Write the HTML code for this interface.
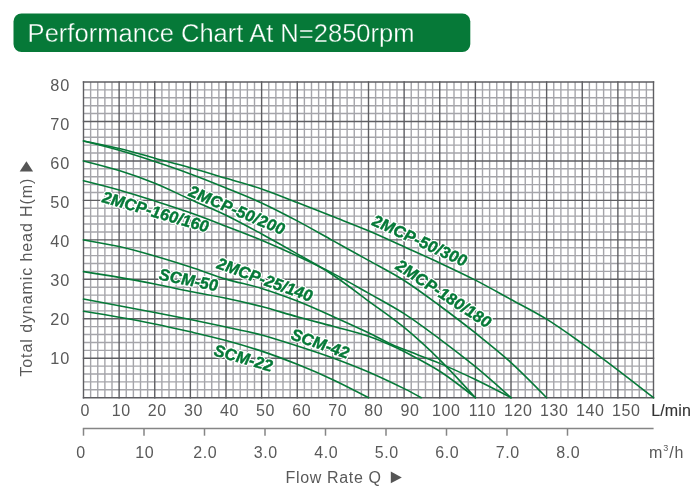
<!DOCTYPE html>
<html><head><meta charset="utf-8"><title>Performance Chart</title>
<style>html,body{margin:0;padding:0;background:#fff;}body{width:700px;height:499px;overflow:hidden;font-family:"Liberation Sans",sans-serif;}svg{display:block;will-change:transform;}text{font-family:"Liberation Sans",sans-serif;}</style>
</head><body>
<svg width="700" height="499" viewBox="0 0 700 499">
<rect x="0" y="0" width="700" height="499" fill="#ffffff"/>
<rect x="13.5" y="13.4" width="456.8" height="38.6" rx="8" ry="8" fill="#067938"/>
<text x="27.6" y="42" font-size="26.7" fill="#ffffff" stroke="#067938" stroke-width="0.35" textLength="387" lengthAdjust="spacingAndGlyphs">Performance Chart At N=2850rpm</text>
<g stroke="#a5a5aa" stroke-width="1.4" fill="none">
<line x1="90.62" y1="82.00" x2="90.62" y2="397.70"/>
<line x1="97.75" y1="82.00" x2="97.75" y2="397.70"/>
<line x1="104.88" y1="82.00" x2="104.88" y2="397.70"/>
<line x1="112.00" y1="82.00" x2="112.00" y2="397.70"/>
<line x1="126.25" y1="82.00" x2="126.25" y2="397.70"/>
<line x1="133.38" y1="82.00" x2="133.38" y2="397.70"/>
<line x1="140.50" y1="82.00" x2="140.50" y2="397.70"/>
<line x1="147.62" y1="82.00" x2="147.62" y2="397.70"/>
<line x1="161.88" y1="82.00" x2="161.88" y2="397.70"/>
<line x1="169.00" y1="82.00" x2="169.00" y2="397.70"/>
<line x1="176.12" y1="82.00" x2="176.12" y2="397.70"/>
<line x1="183.25" y1="82.00" x2="183.25" y2="397.70"/>
<line x1="197.50" y1="82.00" x2="197.50" y2="397.70"/>
<line x1="204.62" y1="82.00" x2="204.62" y2="397.70"/>
<line x1="211.75" y1="82.00" x2="211.75" y2="397.70"/>
<line x1="218.88" y1="82.00" x2="218.88" y2="397.70"/>
<line x1="233.12" y1="82.00" x2="233.12" y2="397.70"/>
<line x1="240.25" y1="82.00" x2="240.25" y2="397.70"/>
<line x1="247.38" y1="82.00" x2="247.38" y2="397.70"/>
<line x1="254.50" y1="82.00" x2="254.50" y2="397.70"/>
<line x1="268.75" y1="82.00" x2="268.75" y2="397.70"/>
<line x1="275.88" y1="82.00" x2="275.88" y2="397.70"/>
<line x1="283.00" y1="82.00" x2="283.00" y2="397.70"/>
<line x1="290.12" y1="82.00" x2="290.12" y2="397.70"/>
<line x1="304.38" y1="82.00" x2="304.38" y2="397.70"/>
<line x1="311.50" y1="82.00" x2="311.50" y2="397.70"/>
<line x1="318.62" y1="82.00" x2="318.62" y2="397.70"/>
<line x1="325.75" y1="82.00" x2="325.75" y2="397.70"/>
<line x1="340.00" y1="82.00" x2="340.00" y2="397.70"/>
<line x1="347.12" y1="82.00" x2="347.12" y2="397.70"/>
<line x1="354.25" y1="82.00" x2="354.25" y2="397.70"/>
<line x1="361.38" y1="82.00" x2="361.38" y2="397.70"/>
<line x1="375.62" y1="82.00" x2="375.62" y2="397.70"/>
<line x1="382.75" y1="82.00" x2="382.75" y2="397.70"/>
<line x1="389.88" y1="82.00" x2="389.88" y2="397.70"/>
<line x1="397.00" y1="82.00" x2="397.00" y2="397.70"/>
<line x1="411.25" y1="82.00" x2="411.25" y2="397.70"/>
<line x1="418.38" y1="82.00" x2="418.38" y2="397.70"/>
<line x1="425.50" y1="82.00" x2="425.50" y2="397.70"/>
<line x1="432.62" y1="82.00" x2="432.62" y2="397.70"/>
<line x1="446.88" y1="82.00" x2="446.88" y2="397.70"/>
<line x1="454.00" y1="82.00" x2="454.00" y2="397.70"/>
<line x1="461.12" y1="82.00" x2="461.12" y2="397.70"/>
<line x1="468.25" y1="82.00" x2="468.25" y2="397.70"/>
<line x1="482.50" y1="82.00" x2="482.50" y2="397.70"/>
<line x1="489.62" y1="82.00" x2="489.62" y2="397.70"/>
<line x1="496.75" y1="82.00" x2="496.75" y2="397.70"/>
<line x1="503.88" y1="82.00" x2="503.88" y2="397.70"/>
<line x1="518.12" y1="82.00" x2="518.12" y2="397.70"/>
<line x1="525.25" y1="82.00" x2="525.25" y2="397.70"/>
<line x1="532.38" y1="82.00" x2="532.38" y2="397.70"/>
<line x1="539.50" y1="82.00" x2="539.50" y2="397.70"/>
<line x1="553.75" y1="82.00" x2="553.75" y2="397.70"/>
<line x1="560.88" y1="82.00" x2="560.88" y2="397.70"/>
<line x1="568.00" y1="82.00" x2="568.00" y2="397.70"/>
<line x1="575.12" y1="82.00" x2="575.12" y2="397.70"/>
<line x1="589.38" y1="82.00" x2="589.38" y2="397.70"/>
<line x1="596.50" y1="82.00" x2="596.50" y2="397.70"/>
<line x1="603.62" y1="82.00" x2="603.62" y2="397.70"/>
<line x1="610.75" y1="82.00" x2="610.75" y2="397.70"/>
<line x1="625.00" y1="82.00" x2="625.00" y2="397.70"/>
<line x1="632.12" y1="82.00" x2="632.12" y2="397.70"/>
<line x1="639.25" y1="82.00" x2="639.25" y2="397.70"/>
<line x1="646.38" y1="82.00" x2="646.38" y2="397.70"/>
<line x1="83.50" y1="89.89" x2="653.50" y2="89.89"/>
<line x1="83.50" y1="97.78" x2="653.50" y2="97.78"/>
<line x1="83.50" y1="105.68" x2="653.50" y2="105.68"/>
<line x1="83.50" y1="113.57" x2="653.50" y2="113.57"/>
<line x1="83.50" y1="129.35" x2="653.50" y2="129.35"/>
<line x1="83.50" y1="137.25" x2="653.50" y2="137.25"/>
<line x1="83.50" y1="145.14" x2="653.50" y2="145.14"/>
<line x1="83.50" y1="153.03" x2="653.50" y2="153.03"/>
<line x1="83.50" y1="168.82" x2="653.50" y2="168.82"/>
<line x1="83.50" y1="176.71" x2="653.50" y2="176.71"/>
<line x1="83.50" y1="184.60" x2="653.50" y2="184.60"/>
<line x1="83.50" y1="192.50" x2="653.50" y2="192.50"/>
<line x1="83.50" y1="208.28" x2="653.50" y2="208.28"/>
<line x1="83.50" y1="216.17" x2="653.50" y2="216.17"/>
<line x1="83.50" y1="224.06" x2="653.50" y2="224.06"/>
<line x1="83.50" y1="231.96" x2="653.50" y2="231.96"/>
<line x1="83.50" y1="247.74" x2="653.50" y2="247.74"/>
<line x1="83.50" y1="255.63" x2="653.50" y2="255.63"/>
<line x1="83.50" y1="263.53" x2="653.50" y2="263.53"/>
<line x1="83.50" y1="271.42" x2="653.50" y2="271.42"/>
<line x1="83.50" y1="287.20" x2="653.50" y2="287.20"/>
<line x1="83.50" y1="295.10" x2="653.50" y2="295.10"/>
<line x1="83.50" y1="302.99" x2="653.50" y2="302.99"/>
<line x1="83.50" y1="310.88" x2="653.50" y2="310.88"/>
<line x1="83.50" y1="326.67" x2="653.50" y2="326.67"/>
<line x1="83.50" y1="334.56" x2="653.50" y2="334.56"/>
<line x1="83.50" y1="342.45" x2="653.50" y2="342.45"/>
<line x1="83.50" y1="350.34" x2="653.50" y2="350.34"/>
<line x1="83.50" y1="366.13" x2="653.50" y2="366.13"/>
<line x1="83.50" y1="374.02" x2="653.50" y2="374.02"/>
<line x1="83.50" y1="381.92" x2="653.50" y2="381.92"/>
<line x1="83.50" y1="389.81" x2="653.50" y2="389.81"/>
</g>
<g stroke="#5e5e62" stroke-width="1.4" fill="none">
<line x1="83.50" y1="81.30" x2="83.50" y2="398.40"/>
<line x1="119.12" y1="81.30" x2="119.12" y2="398.40"/>
<line x1="154.75" y1="81.30" x2="154.75" y2="398.40"/>
<line x1="190.38" y1="81.30" x2="190.38" y2="398.40"/>
<line x1="226.00" y1="81.30" x2="226.00" y2="398.40"/>
<line x1="261.62" y1="81.30" x2="261.62" y2="398.40"/>
<line x1="297.25" y1="81.30" x2="297.25" y2="398.40"/>
<line x1="332.88" y1="81.30" x2="332.88" y2="398.40"/>
<line x1="368.50" y1="81.30" x2="368.50" y2="398.40"/>
<line x1="404.12" y1="81.30" x2="404.12" y2="398.40"/>
<line x1="439.75" y1="81.30" x2="439.75" y2="398.40"/>
<line x1="475.38" y1="81.30" x2="475.38" y2="398.40"/>
<line x1="511.00" y1="81.30" x2="511.00" y2="398.40"/>
<line x1="546.62" y1="81.30" x2="546.62" y2="398.40"/>
<line x1="582.25" y1="81.30" x2="582.25" y2="398.40"/>
<line x1="617.88" y1="81.30" x2="617.88" y2="398.40"/>
<line x1="653.50" y1="81.30" x2="653.50" y2="398.40"/>
<line x1="82.80" y1="82.00" x2="654.20" y2="82.00"/>
<line x1="82.80" y1="121.46" x2="654.20" y2="121.46"/>
<line x1="82.80" y1="160.93" x2="654.20" y2="160.93"/>
<line x1="82.80" y1="200.39" x2="654.20" y2="200.39"/>
<line x1="82.80" y1="239.85" x2="654.20" y2="239.85"/>
<line x1="82.80" y1="279.31" x2="654.20" y2="279.31"/>
<line x1="82.80" y1="318.77" x2="654.20" y2="318.77"/>
<line x1="82.80" y1="358.24" x2="654.20" y2="358.24"/>
<line x1="82.80" y1="397.70" x2="654.20" y2="397.70"/>
</g>
<g font-size="16.3" font-weight="bold" font-style="italic" fill="#ffffff" stroke="#ffffff" stroke-width="2.8" stroke-linejoin="round">
<text x="0" y="0" transform="translate(101.60 202.00) rotate(16.15) skewX(4)" textLength="110.0" lengthAdjust="spacing">2MCP-160/160</text>
<text x="0" y="0" transform="translate(187.80 195.60) rotate(22.82) skewX(4)" textLength="102.6" lengthAdjust="spacing">2MCP-50/200</text>
<text x="0" y="0" transform="translate(216.00 268.00) rotate(19.77) skewX(4)" textLength="100.5" lengthAdjust="spacing">2MCP-25/140</text>
<text x="0" y="0" transform="translate(158.60 279.60) rotate(11.33) skewX(4)" textLength="59.6" lengthAdjust="spacing">SCM-50</text>
<text x="0" y="0" transform="translate(290.20 339.00) rotate(19.27) skewX(4)" textLength="60.6" lengthAdjust="spacing">SCM-42</text>
<text x="0" y="0" transform="translate(213.30 355.20) rotate(16.09) skewX(4)" textLength="60.3" lengthAdjust="spacing">SCM-22</text>
<text x="0" y="0" transform="translate(371.30 224.80) rotate(24.46) skewX(4)" textLength="102.2" lengthAdjust="spacing">2MCP-50/300</text>
<text x="0" y="0" transform="translate(394.80 268.60) rotate(33.05) skewX(4)" textLength="110.0" lengthAdjust="spacing">2MCP-180/180</text>
</g>
<g font-size="16.3" font-weight="bold" font-style="italic" fill="#067938" stroke="#067938" stroke-width="0.45">
<text x="0" y="0" transform="translate(101.60 202.00) rotate(16.15) skewX(4)" textLength="110.0" lengthAdjust="spacing">2MCP-160/160</text>
<text x="0" y="0" transform="translate(187.80 195.60) rotate(22.82) skewX(4)" textLength="102.6" lengthAdjust="spacing">2MCP-50/200</text>
<text x="0" y="0" transform="translate(216.00 268.00) rotate(19.77) skewX(4)" textLength="100.5" lengthAdjust="spacing">2MCP-25/140</text>
<text x="0" y="0" transform="translate(158.60 279.60) rotate(11.33) skewX(4)" textLength="59.6" lengthAdjust="spacing">SCM-50</text>
<text x="0" y="0" transform="translate(290.20 339.00) rotate(19.27) skewX(4)" textLength="60.6" lengthAdjust="spacing">SCM-42</text>
<text x="0" y="0" transform="translate(213.30 355.20) rotate(16.09) skewX(4)" textLength="60.3" lengthAdjust="spacing">SCM-22</text>
<text x="0" y="0" transform="translate(371.30 224.80) rotate(24.46) skewX(4)" textLength="102.2" lengthAdjust="spacing">2MCP-50/300</text>
<text x="0" y="0" transform="translate(394.80 268.60) rotate(33.05) skewX(4)" textLength="110.0" lengthAdjust="spacing">2MCP-180/180</text>
</g>
<g stroke="#067938" stroke-width="1.6" fill="none" stroke-linecap="round">
<path d="M83.50,141.00 C95.38,143.31 107.25,145.63 119.12,148.49 C131.00,151.36 142.88,154.94 154.75,158.16 C166.62,161.39 178.50,164.48 190.38,167.83 C202.25,171.19 214.12,174.77 226.00,178.29 C237.88,181.81 249.75,184.90 261.62,188.94 C273.50,192.99 285.38,197.95 297.25,202.56 C309.12,207.16 321.00,211.86 332.88,216.57 C344.75,221.27 356.62,225.74 368.50,230.77 C380.38,235.81 392.25,241.40 404.12,246.76 C416.00,252.12 427.88,257.38 439.75,262.94 C451.62,268.49 463.50,274.02 475.38,280.10 C487.25,286.19 499.12,292.93 511.00,299.44 C522.88,305.95 534.75,311.80 546.62,319.17 C558.50,326.54 570.38,335.15 582.25,343.64 C594.12,352.12 606.00,361.07 617.88,370.08 C629.75,379.09 641.62,388.39 653.50,397.70"/>
<path d="M83.50,141.00 C95.38,143.92 107.25,146.85 119.12,150.27 C131.00,153.69 142.88,157.57 154.75,161.52 C166.62,165.46 178.50,169.54 190.38,173.95 C202.25,178.35 214.12,183.12 226.00,187.96 C237.88,192.79 249.75,197.46 261.62,202.95 C273.50,208.44 285.38,214.63 297.25,220.91 C309.12,227.19 321.00,234.06 332.88,240.64 C344.75,247.22 356.62,253.73 368.50,260.37 C380.38,267.01 392.25,272.93 404.12,280.50 C416.00,288.06 427.88,297.00 439.75,305.75 C451.62,314.50 463.50,323.51 475.38,332.98 C487.25,342.45 499.12,351.79 511.00,362.58 C522.88,373.36 534.75,385.53 546.62,397.70"/>
<path d="M83.50,160.92 C95.38,163.90 107.25,166.88 119.12,170.59 C131.00,174.31 142.88,178.42 154.75,183.22 C166.62,188.02 178.50,194.07 190.38,199.40 C202.25,204.73 214.12,209.43 226.00,215.19 C237.88,220.94 249.75,227.49 261.62,233.93 C273.50,240.38 285.38,247.02 297.25,253.86 C309.12,260.70 321.00,267.11 332.88,274.97 C344.75,282.83 356.62,292.27 368.50,301.02 C380.38,309.76 392.25,317.66 404.12,327.46 C416.00,337.26 427.88,348.11 439.75,359.82 C451.62,371.52 463.50,384.61 475.38,397.70"/>
<path d="M83.50,180.66 C95.38,183.60 107.25,186.54 119.12,189.93 C131.00,193.32 142.88,197.16 154.75,200.98 C166.62,204.79 178.50,208.61 190.38,212.82 C202.25,217.03 214.12,221.66 226.00,226.24 C237.88,230.81 249.75,235.28 261.62,240.24 C273.50,245.21 285.38,250.50 297.25,256.03 C309.12,261.55 321.00,267.21 332.88,273.39 C344.75,279.58 356.62,286.42 368.50,293.12 C380.38,299.83 392.25,305.98 404.12,313.64 C416.00,321.31 427.88,330.25 439.75,339.10 C451.62,347.94 463.50,356.95 475.38,366.72 C487.25,376.49 499.12,387.09 511.00,397.70"/>
<path d="M83.50,239.85 C95.38,241.86 107.25,243.86 119.12,246.56 C131.00,249.26 142.88,252.61 154.75,256.03 C166.62,259.45 178.50,263.23 190.38,267.08 C202.25,270.93 214.12,275.56 226.00,279.12 C237.88,282.67 249.75,284.74 261.62,288.39 C273.50,292.04 285.38,296.35 297.25,301.02 C309.12,305.69 321.00,311.11 332.88,316.41 C344.75,321.70 356.62,327.12 368.50,332.78 C375.39,336.07 382.27,340.00 389.16,343.24 C394.15,345.59 399.14,347.57 404.12,349.56 C416.00,354.28 427.88,358.37 439.75,363.37 C451.62,368.37 463.50,373.83 475.38,379.55 C487.25,385.27 499.12,391.48 511.00,397.70"/>
<path d="M83.50,271.62 C95.38,273.44 107.25,275.27 119.12,277.34 C131.00,279.41 142.88,281.68 154.75,284.05 C166.62,286.42 178.50,289.18 190.38,291.55 C202.25,293.91 214.12,295.76 226.00,298.25 C237.88,300.75 249.75,303.45 261.62,306.54 C273.50,309.63 285.38,313.51 297.25,316.80 C309.12,320.09 321.00,323.05 332.88,326.27 C344.75,329.50 356.62,332.31 368.50,336.14 C375.39,338.36 382.27,341.45 389.16,344.43 C394.15,346.58 399.14,348.88 404.12,351.53 C416.00,357.83 427.88,363.56 439.75,371.26 C451.62,378.96 463.50,388.33 475.38,397.70"/>
<path d="M83.50,299.04 C95.38,301.28 107.25,303.52 119.12,305.75 C131.00,307.99 142.88,310.16 154.75,312.46 C166.62,314.76 178.50,317.13 190.38,319.56 C202.25,322.00 214.12,324.50 226.00,327.06 C237.88,329.63 249.75,331.80 261.62,334.95 C273.50,338.11 285.38,342.16 297.25,346.00 C309.12,349.85 321.00,353.70 332.88,358.04 C344.75,362.38 356.62,366.95 368.50,372.05 C380.38,377.15 392.25,382.85 404.12,388.62 C409.82,391.40 415.52,394.55 421.22,397.70"/>
<path d="M83.50,311.28 C95.38,313.18 107.25,315.09 119.12,317.20 C131.00,319.30 142.88,321.47 154.75,323.91 C166.62,326.34 178.50,329.04 190.38,331.80 C202.25,334.56 214.12,337.26 226.00,340.48 C237.88,343.70 249.75,347.16 261.62,351.13 C273.50,355.11 285.38,359.59 297.25,364.35 C309.12,369.12 321.00,374.19 332.88,379.74 C344.75,385.30 356.62,391.50 368.50,397.70"/>
</g>
<g font-size="16.3" fill="#595959" text-anchor="end" letter-spacing="0.9">
<text x="70.2" y="364.10">10</text>
<text x="70.2" y="325.10">20</text>
<text x="70.2" y="286.10">30</text>
<text x="70.2" y="247.10">40</text>
<text x="70.2" y="208.10">50</text>
<text x="70.2" y="169.10">60</text>
<text x="70.2" y="130.10">70</text>
<text x="70.2" y="91.10">80</text>
</g>
<g font-size="16" fill="#595959" text-anchor="middle" letter-spacing="0.6">
<text x="85.20" y="415.9">0</text>
<text x="121.28" y="415.9">10</text>
<text x="157.36" y="415.9">20</text>
<text x="193.44" y="415.9">30</text>
<text x="229.52" y="415.9">40</text>
<text x="265.60" y="415.9">50</text>
<text x="301.68" y="415.9">60</text>
<text x="337.76" y="415.9">70</text>
<text x="373.84" y="415.9">80</text>
<text x="409.92" y="415.9">90</text>
<text x="446.30" y="415.9">100</text>
<text x="482.30" y="415.9">110</text>
<text x="518.30" y="415.9">120</text>
<text x="554.30" y="415.9">130</text>
<text x="590.30" y="415.9">140</text>
<text x="626.30" y="415.9">150</text>
</g>
<text x="651.2" y="415.9" font-size="16" fill="#333333" stroke="#333333" stroke-width="0.12" letter-spacing="0.15">L/min</text>
<g stroke="#858585" stroke-width="1.5" fill="none">
<line x1="82.8" y1="428.6" x2="653.6" y2="428.6"/>
<line x1="83.50" y1="428.6" x2="83.50" y2="435.7"/>
<line x1="144.00" y1="428.6" x2="144.00" y2="435.7"/>
<line x1="204.50" y1="428.6" x2="204.50" y2="435.7"/>
<line x1="265.00" y1="428.6" x2="265.00" y2="435.7"/>
<line x1="325.50" y1="428.6" x2="325.50" y2="435.7"/>
<line x1="386.00" y1="428.6" x2="386.00" y2="435.7"/>
<line x1="446.50" y1="428.6" x2="446.50" y2="435.7"/>
<line x1="507.00" y1="428.6" x2="507.00" y2="435.7"/>
<line x1="567.50" y1="428.6" x2="567.50" y2="435.7"/>
</g>
<g font-size="16" fill="#595959" text-anchor="middle" letter-spacing="0.6">
<text x="81.10" y="457.5">0</text>
<text x="144.80" y="457.5">10</text>
<text x="205.30" y="457.5">2.0</text>
<text x="265.80" y="457.5">3.0</text>
<text x="326.30" y="457.5">4.0</text>
<text x="386.80" y="457.5">5.0</text>
<text x="447.30" y="457.5">6.0</text>
<text x="507.80" y="457.5">7.0</text>
<text x="568.30" y="457.5">8.0</text>
</g>
<text x="649" y="457.5" font-size="16" fill="#595959" letter-spacing="0.9">m<tspan font-size="9" dy="-7">3</tspan><tspan dy="7">/h</tspan></text>
<text x="285.6" y="483.3" font-size="16" fill="#595959" letter-spacing="0.65">Flow Rate Q</text>
<path d="M390.8,471.6 L401.8,477.4 L390.8,483.2 Z" fill="#555555"/>
<text x="31.8" y="376.6" font-size="16" fill="#595959" transform="rotate(-90 31.8 376.6)" textLength="198" lengthAdjust="spacing">Total dynamic head H(m)</text>
<path d="M19.7,171.6 L33.1,171.6 L26.4,161.2 Z" fill="#555555"/>
</svg>
</body></html>
